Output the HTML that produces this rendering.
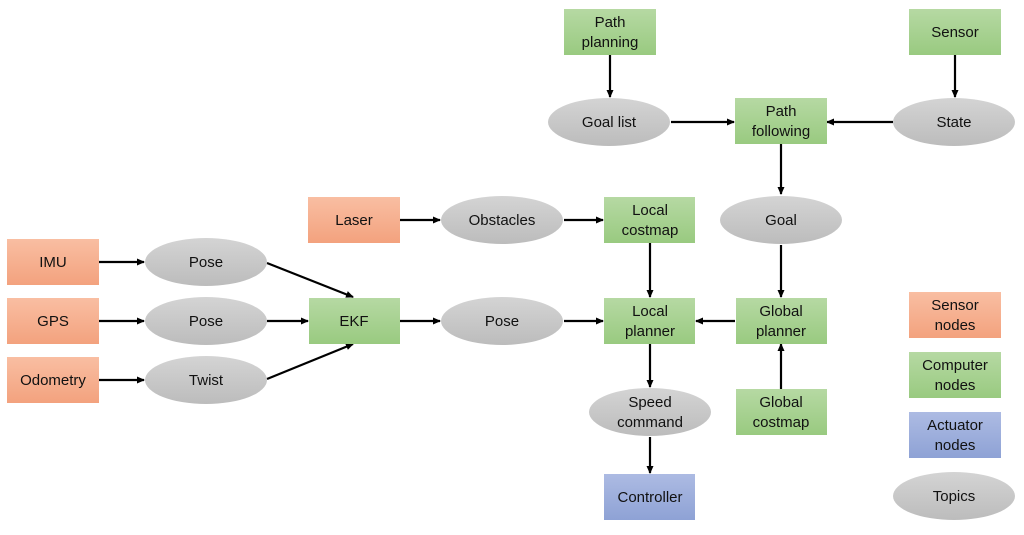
<!DOCTYPE html>
<html><head><meta charset="utf-8"><style>
body{margin:0;background:#fff;width:1024px;height:530px;overflow:hidden}
svg text{font-family:"Liberation Sans",sans-serif;font-size:15px;fill:#111;text-anchor:middle}
</style></head><body>
<svg width="1024" height="530" viewBox="0 0 1024 530">
<defs>
<linearGradient id="o" x1="0" y1="0" x2="0" y2="1"><stop offset="0" stop-color="#f9bea2"/><stop offset="1" stop-color="#f3a27e"/></linearGradient>
<linearGradient id="g" x1="0" y1="0" x2="0" y2="1"><stop offset="0" stop-color="#b6d9a3"/><stop offset="1" stop-color="#99ca80"/></linearGradient>
<linearGradient id="b" x1="0" y1="0" x2="0" y2="1"><stop offset="0" stop-color="#adbbe3"/><stop offset="1" stop-color="#8ea2d5"/></linearGradient>
<linearGradient id="e" x1="0" y1="0" x2="0" y2="1"><stop offset="0" stop-color="#d4d4d4"/><stop offset="1" stop-color="#bcbcbc"/></linearGradient>
<marker id="a" markerWidth="8" markerHeight="8" refX="7" refY="4" orient="auto" markerUnits="userSpaceOnUse"><path d="M0,0.5 L8,4 L0,7.5z" fill="#000"/></marker>
</defs>
<g stroke="#000" stroke-width="2.2" fill="none" marker-end="url(#a)">
<line x1="99" y1="262" x2="144" y2="262"/>
<line x1="99" y1="321" x2="144" y2="321"/>
<line x1="99" y1="380" x2="144" y2="380"/>
<line x1="267" y1="263" x2="353" y2="297"/>
<line x1="267" y1="321" x2="308" y2="321"/>
<line x1="267" y1="379" x2="353" y2="344"/>
<line x1="400" y1="321" x2="440" y2="321"/>
<line x1="400" y1="220" x2="440" y2="220"/>
<line x1="564" y1="220" x2="603" y2="220"/>
<line x1="564" y1="321" x2="603" y2="321"/>
<line x1="650" y1="243" x2="650" y2="297"/>
<line x1="735" y1="321" x2="696" y2="321"/>
<line x1="781" y1="245" x2="781" y2="297"/>
<line x1="781" y1="389" x2="781" y2="344"/>
<line x1="650" y1="344" x2="650" y2="387"/>
<line x1="650" y1="437" x2="650" y2="473"/>
<line x1="610" y1="55" x2="610" y2="97"/>
<line x1="671" y1="122" x2="734" y2="122"/>
<line x1="893" y1="122" x2="827" y2="122"/>
<line x1="955" y1="55" x2="955" y2="97"/>
<line x1="781" y1="144" x2="781" y2="194"/>
</g>
<g>
<rect x="7" y="239" width="92" height="46" fill="url(#o)"/><text x="53" y="267">IMU</text>
<rect x="7" y="298" width="92" height="46" fill="url(#o)"/><text x="53" y="326">GPS</text>
<rect x="7" y="357" width="92" height="46" fill="url(#o)"/><text x="53" y="385">Odometry</text>
<rect x="308" y="197" width="92" height="46" fill="url(#o)"/><text x="354" y="225">Laser</text>
<rect x="909" y="292" width="92" height="46" fill="url(#o)"/><text x="955" y="310">Sensor</text><text x="955" y="330">nodes</text>

<rect x="309" y="298" width="91" height="46" fill="url(#g)"/><text x="354" y="326">EKF</text>
<rect x="604" y="197" width="91" height="46" fill="url(#g)"/><text x="650" y="215">Local</text><text x="650" y="235">costmap</text>
<rect x="604" y="298" width="91" height="46" fill="url(#g)"/><text x="650" y="316">Local</text><text x="650" y="336">planner</text>
<rect x="736" y="298" width="91" height="46" fill="url(#g)"/><text x="781" y="316">Global</text><text x="781" y="336">planner</text>
<rect x="736" y="389" width="91" height="46" fill="url(#g)"/><text x="781" y="407">Global</text><text x="781" y="427">costmap</text>
<rect x="735" y="98" width="92" height="46" fill="url(#g)"/><text x="781" y="116">Path</text><text x="781" y="136">following</text>
<rect x="564" y="9" width="92" height="46" fill="url(#g)"/><text x="610" y="27">Path</text><text x="610" y="47">planning</text>
<rect x="909" y="9" width="92" height="46" fill="url(#g)"/><text x="955" y="37">Sensor</text>
<rect x="909" y="352" width="92" height="46" fill="url(#g)"/><text x="955" y="370">Computer</text><text x="955" y="390">nodes</text>

<rect x="604" y="474" width="91" height="46" fill="url(#b)"/><text x="650" y="502">Controller</text>
<rect x="909" y="412" width="92" height="46" fill="url(#b)"/><text x="955" y="430">Actuator</text><text x="955" y="450">nodes</text>

<ellipse cx="206" cy="262" rx="61" ry="24" fill="url(#e)"/><text x="206" y="267">Pose</text>
<ellipse cx="206" cy="321" rx="61" ry="24" fill="url(#e)"/><text x="206" y="326">Pose</text>
<ellipse cx="206" cy="380" rx="61" ry="24" fill="url(#e)"/><text x="206" y="385">Twist</text>
<ellipse cx="502" cy="220" rx="61" ry="24" fill="url(#e)"/><text x="502" y="225">Obstacles</text>
<ellipse cx="502" cy="321" rx="61" ry="24" fill="url(#e)"/><text x="502" y="326">Pose</text>
<ellipse cx="781" cy="220" rx="61" ry="24" fill="url(#e)"/><text x="781" y="225">Goal</text>
<ellipse cx="609" cy="122" rx="61" ry="24" fill="url(#e)"/><text x="609" y="127">Goal list</text>
<ellipse cx="954" cy="122" rx="61" ry="24" fill="url(#e)"/><text x="954" y="127">State</text>
<ellipse cx="650" cy="412" rx="61" ry="24" fill="url(#e)"/><text x="650" y="407">Speed</text><text x="650" y="427">command</text>
<ellipse cx="954" cy="496" rx="61" ry="24" fill="url(#e)"/><text x="954" y="501">Topics</text>
</g>
</svg>
</body></html>
